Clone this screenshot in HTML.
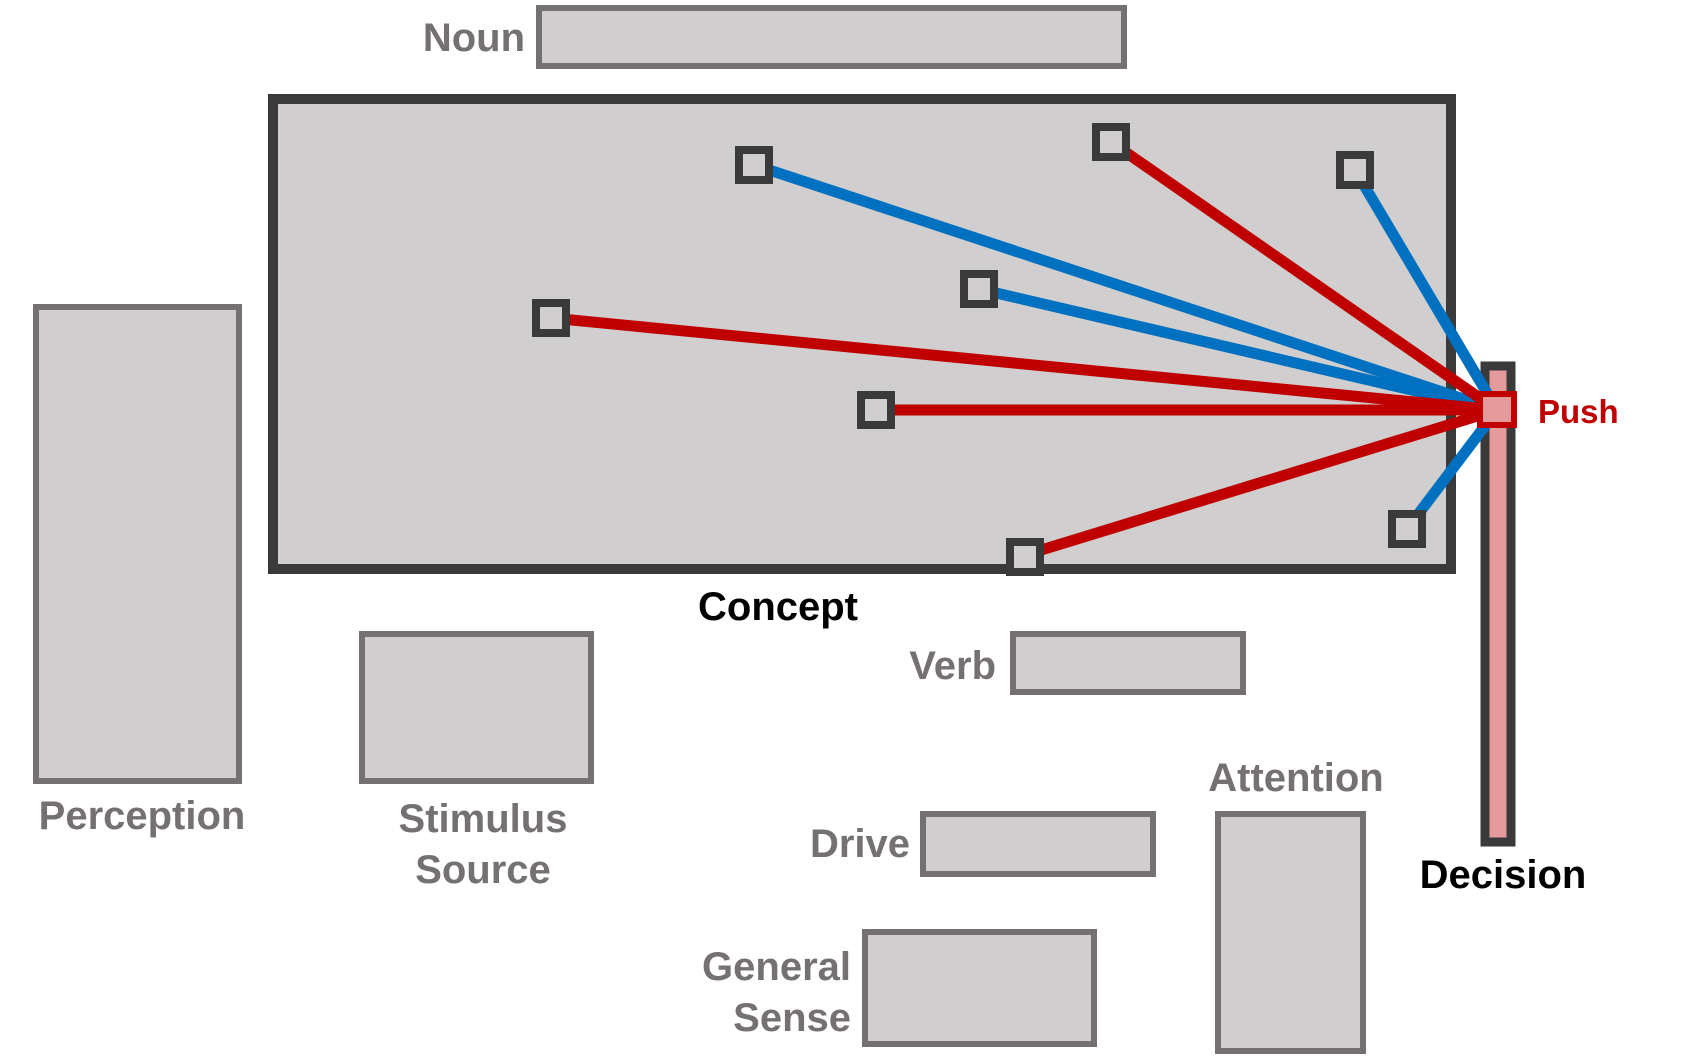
<!DOCTYPE html>
<html><head><style>body{margin:0;background:#fff}</style></head><body>
<svg width="1682" height="1062" xmlns="http://www.w3.org/2000/svg" style="display:block;font-family:'Liberation Sans',sans-serif;font-weight:bold">
<g transform="translate(-5,-2)">
<g fill="#d0cece" stroke="#767171" stroke-width="6">
<rect x="544" y="10" width="585" height="58"/>
<rect x="41" y="309" width="203" height="474"/>
<rect x="367" y="636" width="229" height="147"/>
<rect x="1018" y="636" width="230" height="58"/>
<rect x="928" y="816" width="230" height="60"/>
<rect x="870" y="934" width="229" height="112"/>
<rect x="1223" y="816" width="145" height="237"/>
</g>
<rect x="278" y="101" width="1178" height="470" fill="#d0cece" stroke="#3a3a3a" stroke-width="10"/>
<rect x="1490" y="368" width="26" height="476" fill="#e59b9b" stroke="#3a3a3a" stroke-width="9"/>
<g stroke-width="11" stroke-linecap="round">
<line x1="759" y1="167" x2="1502" y2="412" stroke="#0070c0"/>
<line x1="984" y1="291" x2="1502" y2="412" stroke="#0070c0"/>
<line x1="1360" y1="172" x2="1502" y2="412" stroke="#0070c0"/>
<line x1="1412" y1="531" x2="1502" y2="412" stroke="#0070c0"/>
<line x1="1116" y1="144" x2="1502" y2="412" stroke="#c00000"/>
<line x1="556" y1="320" x2="1502" y2="412" stroke="#c00000"/>
<line x1="881" y1="412" x2="1502" y2="412" stroke="#c00000"/>
<line x1="1030" y1="557" x2="1502" y2="412" stroke="#c00000"/>
</g>
<g fill="#d0cece" stroke="#3a3a3a" stroke-width="8">
<rect x="744" y="152" width="30" height="30"/>
<rect x="1101" y="129" width="30" height="30"/>
<rect x="1345" y="157" width="30" height="30"/>
<rect x="969" y="276" width="30" height="30"/>
<rect x="541" y="305" width="30" height="30"/>
<rect x="866" y="397" width="30" height="30"/>
<rect x="1015" y="544" width="30" height="30"/>
<rect x="1397" y="516" width="30" height="30"/>
</g>
<rect x="1485" y="396" width="34" height="31" fill="#e59b9b" stroke="#c00000" stroke-width="6"/>
<g font-size="40" fill="#767171">
<text x="530" y="53" text-anchor="end">Noun</text>
<text x="1001" y="681" text-anchor="end">Verb</text>
<text x="147" y="831" text-anchor="middle">Perception</text>
<text x="488" y="834" text-anchor="middle">Stimulus</text>
<text x="488" y="885" text-anchor="middle">Source</text>
<text x="1301" y="793" text-anchor="middle">Attention</text>
<text x="915" y="859" text-anchor="end">Drive</text>
<text x="856" y="982" text-anchor="end">General</text>
<text x="856" y="1033" text-anchor="end">Sense</text>
</g>
<g font-size="40" fill="#000">
<text x="783" y="622" text-anchor="middle">Concept</text>
<text x="1508" y="890" text-anchor="middle">Decision</text>
</g>
<text x="1543" y="425" font-size="33" fill="#c00000">Push</text>
</g>
</svg>
</body></html>
